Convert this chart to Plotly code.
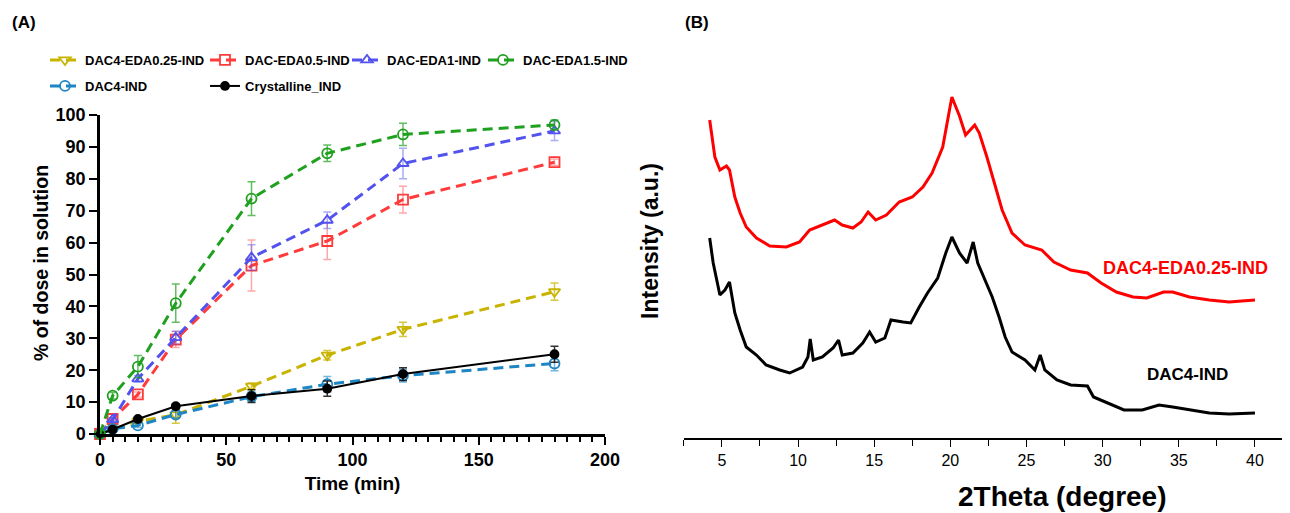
import plotly.graph_objects as go

# ---------------- Panel A data ----------------
time_min = [0, 5, 15, 30, 60, 90, 120, 180]

series_names = ["DAC4-EDA0.25-IND", "DAC-EDA0.5-IND", "DAC-EDA1-IND",
                "DAC-EDA1.5-IND", "DAC4-IND", "Crystalline_IND"]

eda025 = [0, 1.5, 4.0, 6.0, 15.0, 24.7, 32.8, 44.6]
eda025_err = [0, 0, 0.5, 2.6, 1.0, 1.5, 2.2, 2.7]
eda05 = [0, 4.7, 12.4, 29.6, 52.8, 60.5, 73.5, 85.2]
eda05_err = [0, 0.5, 0.8, 2.5, 8.0, 5.8, 4.2, 1.0]
eda1 = [0, 4.5, 17.3, 30.2, 55.3, 67.0, 84.8, 95.0]
eda1_err = [0, 0.5, 1.0, 2.0, 4.0, 2.6, 4.8, 3.0]
eda15 = [0, 12.0, 21.1, 41.0, 73.8, 88.0, 93.9, 96.9]
eda15_err = [0, 1.0, 3.5, 6.0, 5.3, 2.6, 3.5, 1.5]
dac4 = [0, 1.6, 2.7, 6.1, 11.7, 15.6, 18.3, 22.1]
dac4_err = [0, 0.5, 0.7, 1.0, 1.5, 2.4, 2.0, 2.3]
cryst = [0, 1.4, 4.7, 8.7, 11.9, 14.2, 18.8, 25.0]
cryst_err = [0, 0.5, 0.7, 0.8, 2.0, 2.4, 2.0, 2.5]

x_ticks_a = [0, 50, 100, 150, 200]
y_ticks_a = [0, 10, 20, 30, 40, 50, 60, 70, 80, 90, 100]

# ---------------- Panel B data (XRD) ----------------
red_2theta = [4.2, 4.54, 4.87, 5.3, 5.5, 5.85, 6.2, 6.6, 7.27, 8.14, 9.23, 10.1,
              10.76, 11.63, 12.4, 12.9, 13.6, 14.14, 14.6, 15.1, 15.8, 16.64,
              17.5, 18.2, 18.8, 19.5, 19.8, 20.1, 20.6, 21.0, 21.6, 21.9, 22.4,
              22.97, 23.4, 24.05, 24.9, 26.0, 26.8, 27.9, 29.0, 29.9, 30.9,
              32.0, 32.9, 34.0, 34.6, 35.7, 37.0, 38.3, 40.0]
red_intensity = [318, 281, 268, 272, 268, 241, 225, 211, 200, 192, 191, 196,
                 208, 213, 218, 213, 210, 216, 226, 218, 223, 236,
                 241, 251, 265, 291, 318, 341, 322, 303, 313, 305, 281,
                 251, 228, 205, 193, 188, 176, 168, 165, 155, 146,
                 141, 140, 146, 146, 141, 138, 136, 138]

black_2theta = [4.2, 4.43, 4.87, 5.2, 5.5, 5.85, 6.2, 6.6, 7.27, 7.9, 8.8, 9.45,
                10.3, 10.65, 10.8, 11.0, 11.6, 12.3, 12.66, 12.9, 13.6, 14.25,
                14.7, 15.1, 15.7, 16.1, 16.9, 17.4, 17.96, 18.5, 19.17, 19.7,
                20.1, 20.6, 21.1, 21.5, 21.8, 22.3, 22.75, 23.2, 23.6, 24.05,
                24.9, 25.55, 25.9, 26.2, 27.0, 27.9, 29.0, 29.4, 30.3, 31.4,
                32.6, 33.7, 34.6, 35.7, 37.0, 38.3, 40.0]
black_intensity = [200, 175, 143, 148, 156, 125, 108, 91, 83, 73, 68, 65,
                   71, 81, 99, 78, 81, 90, 98, 83, 85, 95,
                   106, 96, 100, 118, 116, 115, 131, 145, 160, 185,
                   201, 185, 175, 196, 175, 158, 141, 121, 101, 86,
                   78, 68, 83, 68, 58, 53, 52, 41, 35, 28,
                   28, 33, 31, 28, 25, 24, 25]

x_ticks_b = [5, 10, 15, 20, 25, 30, 35, 40]

# ---------------- figure ----------------
# page body has an 8px margin: size/position in screen pixels compensate for it
OFF = 8
W, H = 1290 - OFF, 513 - OFF
def px(x):
    return (x - OFF) / W
def py(y):
    return 1 - (y - OFF) / H

BOLD = "Liberation Sans, Arial, sans-serif"

fig = go.Figure()

styles = [
    dict(name=series_names[0], y=eda025, e=eda025_err, color="#C8B400", err="rgba(200,180,0,0.75)",
         symbol="triangle-down-open", dash="10px,6px", lw=3, lwidth=115, legend="legend"),
    dict(name=series_names[1], y=eda05, e=eda05_err, color="#FF3B3B", err="rgba(255,80,80,0.5)",
         symbol="square-open", dash="10px,6px", lw=3, lwidth=97, legend="legend"),
    dict(name=series_names[2], y=eda1, e=eda1_err, color="#5252EE", err="rgba(90,90,240,0.5)",
         symbol="triangle-up-open", dash="10px,6px", lw=3, lwidth=91, legend="legend"),
    dict(name=series_names[4], y=dac4, e=dac4_err, color="#1E86C4", err="rgba(30,134,196,0.6)",
         symbol="circle-open", dash="10px,6px", lw=3, lwidth=115, legend="legend2"),
    dict(name=series_names[5], y=cryst, e=cryst_err, color="#000000", err="rgba(0,0,0,0.8)",
         symbol="circle", dash="solid", lw=2, lwidth=115, legend="legend2"),
    dict(name=series_names[3], y=eda15, e=eda15_err, color="#1FA01F", err="rgba(31,160,31,0.7)",
         symbol="circle-open", dash="10px,6px", lw=3, lwidth=100, legend="legend"),
]
legend_rank = {series_names[0]: 1, series_names[1]: 2, series_names[2]: 3,
               series_names[3]: 4, series_names[4]: 5, series_names[5]: 6}

for s in styles:
    fig.add_trace(go.Scatter(
        x=time_min, y=s["y"], name=s["name"], mode="lines+markers",
        line=dict(color=s["color"], width=s["lw"], dash=s["dash"]),
        marker=dict(symbol=s["symbol"], size=10 if s["symbol"] != "circle" else 8,
                    color=s["color"], line=dict(width=1.8, color=s["color"])),
        error_y=dict(type="data", array=s["e"], color=s["err"], thickness=1.5, width=4),
        cliponaxis=False, legend=s["legend"], legendwidth=s["lwidth"],
        legendrank=legend_rank[s["name"]],
        xaxis="x", yaxis="y",
    ))

fig.add_trace(go.Scatter(x=black_2theta, y=black_intensity, mode="lines",
                         line=dict(color="#000000", width=3), showlegend=False,
                         xaxis="x2", yaxis="y2", name="DAC4-IND"))
fig.add_trace(go.Scatter(x=red_2theta, y=red_intensity, mode="lines",
                         line=dict(color="#FF0000", width=3), showlegend=False,
                         xaxis="x2", yaxis="y2", name="DAC4-EDA0.25-IND"))

fig.update_layout(
    width=W, height=H, margin=dict(l=0, r=0, t=0, b=0),
    template="none", paper_bgcolor="white", plot_bgcolor="rgba(0,0,0,0)",
    xaxis=dict(domain=[px(100), px(605)], range=[0, 200], tickvals=x_ticks_a,
               showline=True, linecolor="black", linewidth=2.5, ticks="outside",
               ticklen=8, tickwidth=2.2, tickcolor="black", showgrid=False, zeroline=False,
               tickfont=dict(family=BOLD, size=18, color="black", weight="bold"),
               minor=dict(ticks="outside", dtick=5, tick0=0, ticklen=5, tickwidth=1.8,
                          tickcolor="black", showgrid=False),
               title=dict(text="Time (min)", standoff=8,
                          font=dict(family=BOLD, size=19, color="black", weight="bold")),
               anchor="y"),
    yaxis=dict(domain=[py(434), py(115)], range=[0, 100], tickvals=y_ticks_a,
               showline=True, linecolor="black", linewidth=2.5, ticks="outside",
               ticklen=8, tickwidth=2.2, tickcolor="black", showgrid=False, zeroline=False,
               tickfont=dict(family=BOLD, size=18, color="black", weight="bold"),
               anchor="x"),
    xaxis2=dict(domain=[px(683.8), 1.0], range=[2.5, 42.3], tickvals=x_ticks_b,
                showline=True, linecolor="black", linewidth=1.5, ticks="outside",
                ticklen=7, tickwidth=1.3, tickcolor="black", showgrid=False, zeroline=False,
                tickfont=dict(family=BOLD, size=16, color="black"),
                minor=dict(ticks="outside", dtick=2.5, tick0=2.5, ticklen=6, tickwidth=1.3,
                           tickcolor="black", showgrid=False),
                anchor="y2"),
    yaxis2=dict(domain=[py(438), py(44)], range=[0, 394], showline=False, ticks="",
                showticklabels=False, showgrid=False, zeroline=False, anchor="x2",
                title=dict(text="Intensity (a.u.)", standoff=17,
                           font=dict(family=BOLD, size=23, color="black", weight="bold"))),
    legend=dict(orientation="h", x=px(45), xanchor="left", y=py(60), yanchor="middle",
                font=dict(family=BOLD, size=13, color="black", weight="bold"),
                bgcolor="rgba(0,0,0,0)", itemwidth=30, traceorder="normal"),
    legend2=dict(orientation="h", x=px(45), xanchor="left", y=py(86), yanchor="middle",
                 font=dict(family=BOLD, size=13, color="black", weight="bold"),
                 bgcolor="rgba(0,0,0,0)", itemwidth=30, traceorder="normal"),
    showlegend=True,
)

ann_font = dict(family=BOLD, color="black", weight="bold")
def note(x, y, text, size, **kw):
    fig.add_annotation(x=px(x), y=py(y), xref="paper", yref="paper", text=text,
                       xanchor="center", yanchor="middle", showarrow=False,
                       font=dict(ann_font, size=size), **kw)

note(24, 22, "(A)", 17)
note(697, 22, "(B)", 17)
note(41, 263, "% of dose in solution", 19.5, textangle=-90)
note(1062, 496, "2Theta (degree)", 28)

fig.add_annotation(x=35.47, y=170, xref="x2", yref="y2", text="DAC4-EDA0.25-IND",
                   xanchor="center", yanchor="middle", showarrow=False,
                   font=dict(family=BOLD, size=18, color="#FF0000", weight="bold"))
fig.add_annotation(x=35.6, y=64, xref="x2", yref="y2", text="DAC4-IND",
                   xanchor="center", yanchor="middle", showarrow=False,
                   font=dict(ann_font, size=17))

fig.write_html("out.html")
